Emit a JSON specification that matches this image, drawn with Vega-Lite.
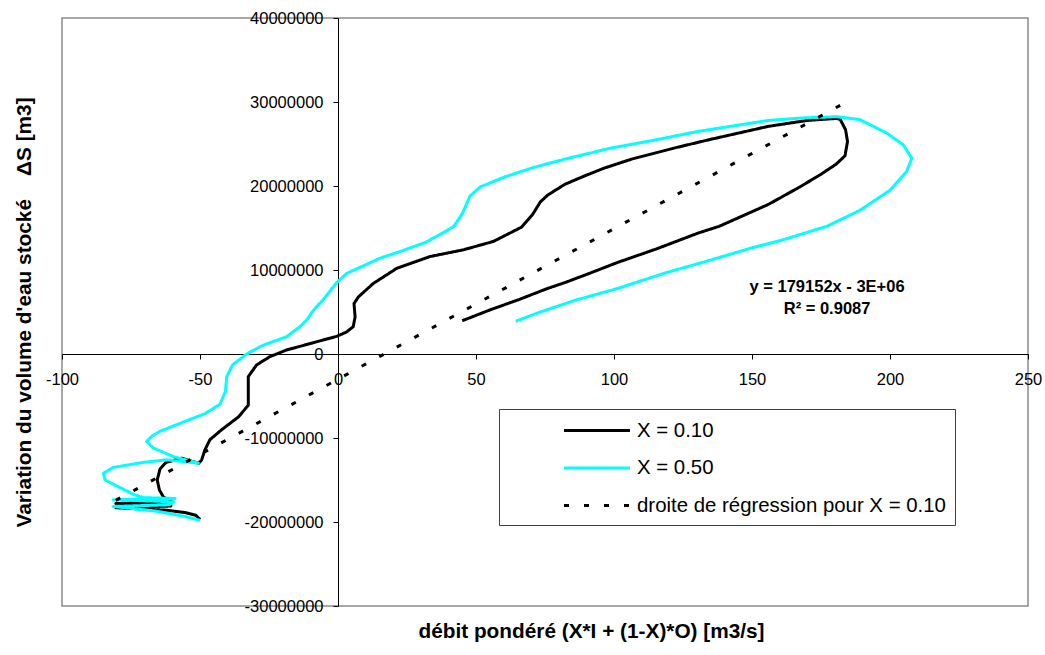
{
  "$schema": "https://vega.github.io/schema/vega-lite/v6.json",
  "width": 966,
  "height": 588,
  "autosize": "none",
  "padding": {"left": 62, "top": 18, "right": 17, "bottom": 49},
  "background": "white",
  "config": {
    "font": "Liberation Sans",
    "view": {"stroke": "#8c8c8c", "strokeWidth": 1.5},
    "axis": {
      "grid": false,
      "domainColor": "black",
      "domainWidth": 1,
      "tickColor": "black",
      "tickSize": 5,
      "tickWidth": 1,
      "labelFont": "Liberation Sans",
      "labelFontSize": 16.5,
      "labelColor": "black",
      "labelFlush": false,
      "labelBound": false,
      "labelOverlap": false,
      "titleFont": "Liberation Sans",
      "titleFontSize": 20.8,
      "titleFontWeight": "bold",
      "titleColor": "black"
    },
    "legend": {
      "orient": "none",
      "legendX": 437,
      "legendY": 391,
      "strokeColor": "#404040",
      "strokeWidth": 1,
      "fillColor": "white",
      "padding": 9,
      "symbolType": "M-3,0H3",
      "symbolSize": 484,
      "symbolStrokeWidth": 3,
      "symbolOffset": 76.5,
      "labelFont": "Liberation Sans",
      "labelFontSize": 20.4,
      "labelColor": "black",
      "labelOffset": 27.5,
      "labelLimit": 600,
      "rowPadding": 14.5
    }
  },
  "datasets": {
    "curves": [
      {"s": "X = 0.10", "i": 1, "x": 45.0, "y": 3960000},
      {"s": "X = 0.10", "i": 2, "x": 55.5, "y": 5300000},
      {"s": "X = 0.10", "i": 3, "x": 65.7, "y": 6500000},
      {"s": "X = 0.10", "i": 4, "x": 75.9, "y": 7800000},
      {"s": "X = 0.10", "i": 5, "x": 82.2, "y": 8500000},
      {"s": "X = 0.10", "i": 6, "x": 91.1, "y": 9600000},
      {"s": "X = 0.10", "i": 7, "x": 101.3, "y": 10900000},
      {"s": "X = 0.10", "i": 8, "x": 115.3, "y": 12500000},
      {"s": "X = 0.10", "i": 9, "x": 130.5, "y": 14400000},
      {"s": "X = 0.10", "i": 10, "x": 138.1, "y": 15200000},
      {"s": "X = 0.10", "i": 11, "x": 155.9, "y": 17800000},
      {"s": "X = 0.10", "i": 12, "x": 167.4, "y": 19900000},
      {"s": "X = 0.10", "i": 13, "x": 175.0, "y": 21400000},
      {"s": "X = 0.10", "i": 14, "x": 180.5, "y": 22600000},
      {"s": "X = 0.10", "i": 15, "x": 183.7, "y": 23600000},
      {"s": "X = 0.10", "i": 16, "x": 184.6, "y": 25300000},
      {"s": "X = 0.10", "i": 17, "x": 183.9, "y": 26700000},
      {"s": "X = 0.10", "i": 18, "x": 182.0, "y": 27900000},
      {"s": "X = 0.10", "i": 19, "x": 180.7, "y": 28050000},
      {"s": "X = 0.10", "i": 20, "x": 169.9, "y": 27800000},
      {"s": "X = 0.10", "i": 21, "x": 155.9, "y": 27100000},
      {"s": "X = 0.10", "i": 22, "x": 134.3, "y": 25500000},
      {"s": "X = 0.10", "i": 23, "x": 121.6, "y": 24500000},
      {"s": "X = 0.10", "i": 24, "x": 106.4, "y": 23200000},
      {"s": "X = 0.10", "i": 25, "x": 96.2, "y": 22100000},
      {"s": "X = 0.10", "i": 26, "x": 88.6, "y": 21100000},
      {"s": "X = 0.10", "i": 27, "x": 82.2, "y": 20200000},
      {"s": "X = 0.10", "i": 28, "x": 75.9, "y": 18900000},
      {"s": "X = 0.10", "i": 29, "x": 73.3, "y": 18100000},
      {"s": "X = 0.10", "i": 30, "x": 70.5, "y": 16600000},
      {"s": "X = 0.10", "i": 31, "x": 66.5, "y": 15100000},
      {"s": "X = 0.10", "i": 32, "x": 56.3, "y": 13400000},
      {"s": "X = 0.10", "i": 33, "x": 45.4, "y": 12400000},
      {"s": "X = 0.10", "i": 34, "x": 33.3, "y": 11600000},
      {"s": "X = 0.10", "i": 35, "x": 21.3, "y": 10200000},
      {"s": "X = 0.10", "i": 36, "x": 12.8, "y": 8400000},
      {"s": "X = 0.10", "i": 37, "x": 7.4, "y": 6800000},
      {"s": "X = 0.10", "i": 38, "x": 5.8, "y": 6000000},
      {"s": "X = 0.10", "i": 39, "x": 6.2, "y": 4400000},
      {"s": "X = 0.10", "i": 40, "x": 5.5, "y": 3250000},
      {"s": "X = 0.10", "i": 41, "x": 3.0, "y": 2600000},
      {"s": "X = 0.10", "i": 42, "x": -0.5, "y": 2100000},
      {"s": "X = 0.10", "i": 43, "x": -8.9, "y": 1350000},
      {"s": "X = 0.10", "i": 44, "x": -18.6, "y": 480000},
      {"s": "X = 0.10", "i": 45, "x": -24.6, "y": -300000},
      {"s": "X = 0.10", "i": 46, "x": -29.5, "y": -1300000},
      {"s": "X = 0.10", "i": 47, "x": -32.5, "y": -2700000},
      {"s": "X = 0.10", "i": 48, "x": -32.5, "y": -4300000},
      {"s": "X = 0.10", "i": 49, "x": -32.5, "y": -6100000},
      {"s": "X = 0.10", "i": 50, "x": -36.1, "y": -7500000},
      {"s": "X = 0.10", "i": 51, "x": -42.1, "y": -9000000},
      {"s": "X = 0.10", "i": 52, "x": -46.4, "y": -10200000},
      {"s": "X = 0.10", "i": 53, "x": -48.2, "y": -11400000},
      {"s": "X = 0.10", "i": 54, "x": -49.4, "y": -12600000},
      {"s": "X = 0.10", "i": 55, "x": -50.5, "y": -13000000},
      {"s": "X = 0.10", "i": 56, "x": -56.7, "y": -12400000},
      {"s": "X = 0.10", "i": 57, "x": -62.3, "y": -12900000},
      {"s": "X = 0.10", "i": 58, "x": -64.5, "y": -13700000},
      {"s": "X = 0.10", "i": 59, "x": -65.5, "y": -15000000},
      {"s": "X = 0.10", "i": 60, "x": -64.7, "y": -16200000},
      {"s": "X = 0.10", "i": 61, "x": -63.3, "y": -17000000},
      {"s": "X = 0.10", "i": 62, "x": -60.3, "y": -17600000},
      {"s": "X = 0.10", "i": 63, "x": -80.5, "y": -17800000},
      {"s": "X = 0.10", "i": 64, "x": -60.5, "y": -18100000},
      {"s": "X = 0.10", "i": 65, "x": -80.5, "y": -18300000},
      {"s": "X = 0.10", "i": 66, "x": -62.0, "y": -18600000},
      {"s": "X = 0.10", "i": 67, "x": -55.0, "y": -18900000},
      {"s": "X = 0.10", "i": 68, "x": -51.5, "y": -19200000},
      {"s": "X = 0.10", "i": 69, "x": -50.0, "y": -19700000},
      {"s": "X = 0.50", "i": 1, "x": 64.4, "y": 3900000},
      {"s": "X = 0.50", "i": 2, "x": 73.3, "y": 5000000},
      {"s": "X = 0.50", "i": 3, "x": 86.0, "y": 6400000},
      {"s": "X = 0.50", "i": 4, "x": 101.3, "y": 7800000},
      {"s": "X = 0.50", "i": 5, "x": 119.1, "y": 9700000},
      {"s": "X = 0.50", "i": 6, "x": 133.1, "y": 11000000},
      {"s": "X = 0.50", "i": 7, "x": 149.6, "y": 12600000},
      {"s": "X = 0.50", "i": 8, "x": 161.3, "y": 13600000},
      {"s": "X = 0.50", "i": 9, "x": 177.1, "y": 15200000},
      {"s": "X = 0.50", "i": 10, "x": 189.1, "y": 17100000},
      {"s": "X = 0.50", "i": 11, "x": 200.0, "y": 19500000},
      {"s": "X = 0.50", "i": 12, "x": 206.0, "y": 21700000},
      {"s": "X = 0.50", "i": 13, "x": 207.9, "y": 23300000},
      {"s": "X = 0.50", "i": 14, "x": 204.8, "y": 24900000},
      {"s": "X = 0.50", "i": 15, "x": 198.8, "y": 26300000},
      {"s": "X = 0.50", "i": 16, "x": 189.1, "y": 27900000},
      {"s": "X = 0.50", "i": 17, "x": 180.7, "y": 28250000},
      {"s": "X = 0.50", "i": 18, "x": 168.0, "y": 28100000},
      {"s": "X = 0.50", "i": 19, "x": 155.9, "y": 27800000},
      {"s": "X = 0.50", "i": 20, "x": 130.5, "y": 26500000},
      {"s": "X = 0.50", "i": 21, "x": 115.3, "y": 25500000},
      {"s": "X = 0.50", "i": 22, "x": 98.7, "y": 24500000},
      {"s": "X = 0.50", "i": 23, "x": 82.2, "y": 23200000},
      {"s": "X = 0.50", "i": 24, "x": 70.8, "y": 22200000},
      {"s": "X = 0.50", "i": 25, "x": 60.6, "y": 21100000},
      {"s": "X = 0.50", "i": 26, "x": 51.6, "y": 19900000},
      {"s": "X = 0.50", "i": 27, "x": 47.8, "y": 18800000},
      {"s": "X = 0.50", "i": 28, "x": 45.2, "y": 16800000},
      {"s": "X = 0.50", "i": 29, "x": 42.0, "y": 15200000},
      {"s": "X = 0.50", "i": 30, "x": 39.0, "y": 14600000},
      {"s": "X = 0.50", "i": 31, "x": 31.8, "y": 13300000},
      {"s": "X = 0.50", "i": 32, "x": 22.5, "y": 12200000},
      {"s": "X = 0.50", "i": 33, "x": 15.2, "y": 11400000},
      {"s": "X = 0.50", "i": 34, "x": 3.2, "y": 9600000},
      {"s": "X = 0.50", "i": 35, "x": -0.5, "y": 8500000},
      {"s": "X = 0.50", "i": 36, "x": -5.0, "y": 6600000},
      {"s": "X = 0.50", "i": 37, "x": -8.9, "y": 5200000},
      {"s": "X = 0.50", "i": 38, "x": -11.3, "y": 4050000},
      {"s": "X = 0.50", "i": 39, "x": -13.8, "y": 3250000},
      {"s": "X = 0.50", "i": 40, "x": -18.6, "y": 2060000},
      {"s": "X = 0.50", "i": 41, "x": -25.8, "y": 1200000},
      {"s": "X = 0.50", "i": 42, "x": -28.3, "y": 870000},
      {"s": "X = 0.50", "i": 43, "x": -33.5, "y": -100000},
      {"s": "X = 0.50", "i": 44, "x": -38.2, "y": -1300000},
      {"s": "X = 0.50", "i": 45, "x": -40.3, "y": -2700000},
      {"s": "X = 0.50", "i": 46, "x": -40.8, "y": -4500000},
      {"s": "X = 0.50", "i": 47, "x": -42.8, "y": -6000000},
      {"s": "X = 0.50", "i": 48, "x": -48.2, "y": -7100000},
      {"s": "X = 0.50", "i": 49, "x": -56.0, "y": -8100000},
      {"s": "X = 0.50", "i": 50, "x": -64.5, "y": -9200000},
      {"s": "X = 0.50", "i": 51, "x": -67.5, "y": -9800000},
      {"s": "X = 0.50", "i": 52, "x": -69.3, "y": -10400000},
      {"s": "X = 0.50", "i": 53, "x": -66.9, "y": -11200000},
      {"s": "X = 0.50", "i": 54, "x": -59.7, "y": -12200000},
      {"s": "X = 0.50", "i": 55, "x": -50.6, "y": -13000000},
      {"s": "X = 0.50", "i": 56, "x": -62.1, "y": -12600000},
      {"s": "X = 0.50", "i": 57, "x": -70.5, "y": -12900000},
      {"s": "X = 0.50", "i": 58, "x": -81.4, "y": -13500000},
      {"s": "X = 0.50", "i": 59, "x": -85.0, "y": -14200000},
      {"s": "X = 0.50", "i": 60, "x": -84.4, "y": -15000000},
      {"s": "X = 0.50", "i": 61, "x": -79.0, "y": -15900000},
      {"s": "X = 0.50", "i": 62, "x": -74.2, "y": -16700000},
      {"s": "X = 0.50", "i": 63, "x": -70.5, "y": -17100000},
      {"s": "X = 0.50", "i": 64, "x": -59.0, "y": -17200000},
      {"s": "X = 0.50", "i": 65, "x": -81.5, "y": -17350000},
      {"s": "X = 0.50", "i": 66, "x": -59.5, "y": -17600000},
      {"s": "X = 0.50", "i": 67, "x": -61.0, "y": -17950000},
      {"s": "X = 0.50", "i": 68, "x": -81.5, "y": -18150000},
      {"s": "X = 0.50", "i": 69, "x": -66.0, "y": -18700000},
      {"s": "X = 0.50", "i": 70, "x": -56.0, "y": -19300000},
      {"s": "X = 0.50", "i": 71, "x": -50.0, "y": -19800000},
      {"s": "droite de régression pour X = 0.10", "i": 1, "x": -80.5, "y": -17420000},
      {"s": "droite de régression pour X = 0.10", "i": 2, "x": 184.6, "y": 30070000}
    ],
    "notes": [
      {"t": "y = 179152x - 3E+06", "x": 177.2, "y": 8000000},
      {"t": "R² = 0.9087", "x": 177.2, "y": 5300000}
    ]
  },
  "layer": [
    {
      "data": {"name": "curves"},
      "mark": {"type": "line", "strokeWidth": 3, "strokeCap": "butt", "strokeJoin": "round", "clip": true},
      "encoding": {
        "x": {
          "field": "x", "type": "quantitative",
          "scale": {"domain": [-100, 250], "nice": false, "zero": false},
          "axis": {
            "values": [-100, -50, 0, 50, 100, 150, 200, 250],
            "offset": -252,
            "labelPadding": 12,
            "labelExpr": "'' + datum.value",
            "title": "débit pondéré (X*I + (1-X)*O) [m3/s]",
            "titleX": 529,
            "titleY": 283,
            "titleBaseline": "alphabetic",
            "titleAlign": "center"
          }
        },
        "y": {
          "field": "y", "type": "quantitative",
          "scale": {"domain": [-30000000, 40000000], "nice": false, "zero": false},
          "axis": {
            "values": [-30000000, -20000000, -10000000, 0, 10000000, 20000000, 30000000, 40000000],
            "offset": -276,
            "labelPadding": 10,
            "labelExpr": "'' + datum.value",
            "title": "Variation du volume d'eau stocké\u00a0\u00a0\u00a0\u00a0ΔS [m3]",
            "titleAngle": 270,
            "titleX": -308,
            "titleY": 294,
            "titleBaseline": "alphabetic",
            "titleAlign": "center"
          }
        },
        "order": {"field": "i", "type": "quantitative"},
        "color": {
          "field": "s", "type": "nominal",
          "scale": {"domain": ["X = 0.10", "X = 0.50", "droite de régression pour X = 0.10"], "range": ["#000000", "#00FFFF", "#000000"]},
          "legend": {"title": null}
        },
        "strokeDash": {
          "field": "s", "type": "nominal",
          "scale": {"domain": ["X = 0.10", "X = 0.50", "droite de régression pour X = 0.10"], "range": [[1, 0], [1, 0], [5, 15]]},
          "legend": {"title": null}
        }
      }
    },
    {
      "data": {"name": "notes"},
      "mark": {"type": "text", "font": "Liberation Sans", "fontSize": 16.5, "fontWeight": "bold", "align": "center", "baseline": "middle", "color": "black"},
      "encoding": {
        "x": {"field": "x", "type": "quantitative"},
        "y": {"field": "y", "type": "quantitative"},
        "text": {"field": "t"}
      }
    }
  ]
}
